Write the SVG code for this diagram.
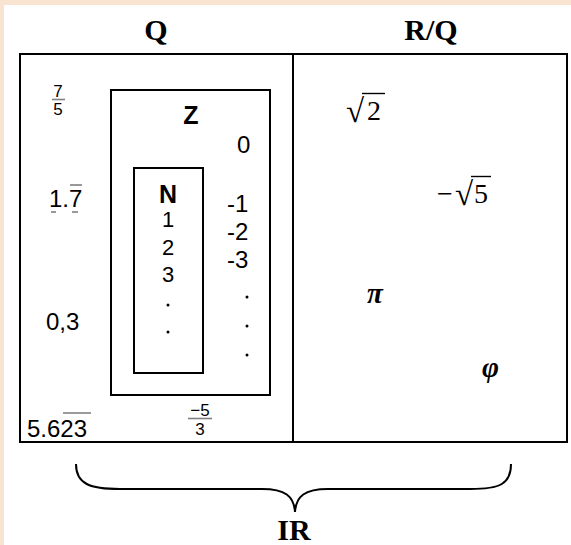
<svg xmlns="http://www.w3.org/2000/svg" width="571" height="545" viewBox="0 0 571 545">
  <style>
    .box { fill: none; stroke: #000; stroke-width: 2; }
    .head { font-family: "Liberation Serif", "Times New Roman", serif; font-weight: bold; font-size: 30px; fill: #000; text-anchor: middle; }
    .num { font-family: "Liberation Sans", Arial, sans-serif; font-size: 24px; fill: #000; }
    .mid { font-family: "Liberation Sans", Arial, sans-serif; font-size: 22px; fill: #000; text-anchor: middle; }
    .big { font-family: "Liberation Sans", Arial, sans-serif; font-size: 24px; fill: #000; }
    .small { font-family: "Liberation Sans", Arial, sans-serif; font-size: 17px; fill: #000; text-anchor: middle; }
    .setname { font-family: "Liberation Sans", Arial, sans-serif; font-weight: bold; font-size: 25px; fill: #000; text-anchor: middle; }
    .math { font-family: "Liberation Serif", "Times New Roman", serif; font-size: 28px; fill: #000; }
    .rad { font-family: "Liberation Serif", "Times New Roman", serif; font-size: 33px; fill: #000; }
    .greek { font-family: "Liberation Serif", "Times New Roman", serif; font-style: italic; font-weight: bold; font-size: 29px; fill: #000; }
    .bar { stroke: #808080; stroke-width: 1.6; }
    .vinc { stroke: #000; stroke-width: 1.4; }
    .dot { fill: #000; }
  </style>

  <!-- page background -->
  <rect x="0" y="0" width="571" height="545" fill="#f9e4d2"/>
  <rect x="4" y="5" width="567" height="540" fill="#fff"/>

  <!-- column headings -->
  <text class="head" x="156" y="40">Q</text>
  <text class="head" x="431" y="40">R/Q</text>

  <!-- outer frame: rationals | irrationals -->
  <g id="frame">
    <rect class="box" x="20" y="54" width="547" height="388"/>
    <line class="box" x1="293" y1="54" x2="293" y2="442"/>
  </g>

  <!-- integers -->
  <g id="integers">
    <rect class="box" x="111" y="90" width="159" height="305"/>
    <text class="setname" x="191" y="124">Z</text>
    <text class="num" x="237" y="153">0</text>
    <text class="num" x="227" y="212">-1</text>
    <text class="num" x="227" y="240">-2</text>
    <text class="num" x="227" y="268">-3</text>
    <circle class="dot" cx="247" cy="297" r="1.5"/>
    <circle class="dot" cx="247" cy="326" r="1.5"/>
    <circle class="dot" cx="247" cy="355" r="1.5"/>
  </g>

  <!-- naturals -->
  <g id="naturals">
    <rect class="box" x="134" y="168" width="69" height="205"/>
    <text class="setname" x="168" y="203">N</text>
    <text class="mid" x="168" y="227">1</text>
    <text class="mid" x="168" y="255">2</text>
    <text class="mid" x="168" y="282">3</text>
    <circle class="dot" cx="168" cy="305" r="1.5"/>
    <circle class="dot" cx="168" cy="332" r="1.5"/>
  </g>

  <!-- rational examples -->
  <g id="rationals">
    <text class="small" x="58" y="97">7</text>
    <line class="bar" x1="52" y1="99.5" x2="65" y2="99.5"/>
    <text class="small" x="58" y="115">5</text>

    <text class="big" x="49" y="207">1.7</text>
    <line class="bar" x1="70" y1="185" x2="82" y2="185"/>
    <line class="bar" x1="51" y1="212" x2="56" y2="212"/>
    <line class="bar" x1="72" y1="212" x2="78" y2="212"/>

    <text class="big" x="46" y="330">0,3</text>

    <text class="big" x="27" y="437" font-size="26">5.623</text>
    <line class="bar" x1="63" y1="413" x2="91" y2="413"/>

    <text class="small" x="200" y="416">−5</text>
    <line class="bar" x1="188" y1="418.5" x2="212" y2="418.5"/>
    <text class="small" x="200" y="435">3</text>
  </g>

  <!-- irrational examples: radicals get a drawn vinculum -->
  <g id="irrationals">
    <text class="rad" x="346" y="122">√</text>
    <text class="math" x="367" y="120">2</text>
    <line class="vinc" x1="362" y1="93.5" x2="385" y2="93.5"/>

    <text class="math" x="437" y="203">−</text>
    <text class="rad" x="455" y="205">√</text>
    <text class="math" x="474" y="203">5</text>
    <line class="vinc" x1="471" y1="176.5" x2="491" y2="176.5"/>

    <text class="greek" x="367" y="303">π</text>
    <text class="greek" x="482" y="377">φ</text>
  </g>

  <!-- brace collecting both columns into the reals -->
  <g id="connectors">
    <path d="M76,464 C76,484 90,489 120,489 L262,489 C285,489 294,496 295,512 C296,496 305,489 328,489 L470,489 C500,489 511,484 511,464" fill="none" stroke="#000" stroke-width="2"/>
  </g>
  <text class="head" x="294" y="540">IR</text>
</svg>
